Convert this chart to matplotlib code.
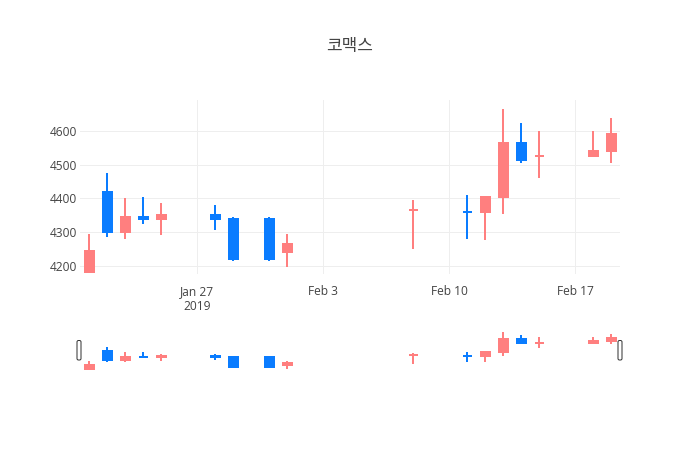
import pandas as pd
import matplotlib
matplotlib.use('Agg')
import matplotlib.pyplot as plt
import matplotlib.dates as mdates
from matplotlib.patches import FancyBboxPatch
from matplotlib.transforms import IdentityTransform

# Daily prices (KRW)
dates = ['2019-01-21', '2019-01-22', '2019-01-23', '2019-01-24', '2019-01-25',
         '2019-01-28', '2019-01-29', '2019-01-31', '2019-02-01', '2019-02-08',
         '2019-02-11', '2019-02-12', '2019-02-13', '2019-02-14', '2019-02-15',
         '2019-02-18', '2019-02-19']
opens = [4180, 4420, 4300, 4345, 4340, 4350, 4340, 4340, 4240, 4365,
         4360, 4360, 4405, 4565, 4525, 4525, 4540]
highs = [4295, 4475, 4400, 4405, 4385, 4380, 4345, 4345, 4295, 4395,
         4410, 4405, 4665, 4625, 4600, 4600, 4640]
lows = [4180, 4285, 4280, 4325, 4290, 4305, 4215, 4215, 4195, 4250,
        4280, 4275, 4355, 4505, 4460, 4525, 4505]
closes = [4245, 4300, 4345, 4340, 4350, 4340, 4220, 4220, 4265, 4365,
          4360, 4405, 4565, 4515, 4525, 4540, 4590]

tick_dates = ['2019-01-27', '2019-02-03', '2019-02-10', '2019-02-17']
tick_labels = ['Jan 27\n2019', 'Feb 3', 'Feb 10', 'Feb 17']
y_ticks = [4200, 4300, 4400, 4500, 4600]

title = '코맥스'

UP = '#ff7f7f'
DOWN = '#0a7cff'
GRID = '#eeeeee'
TEXT = '#444444'
PX = 72 / 100  # one pixel in points at dpi 100

x = mdates.date2num(pd.to_datetime(dates))
xt = mdates.date2num(pd.to_datetime(tick_dates))

# candle direction: like plotly, ties are decided by previous close
colors = []
for i in range(len(x)):
    if closes[i] > opens[i]:
        up = True
    elif closes[i] < opens[i]:
        up = False
    else:
        up = i > 0 and closes[i] >= closes[i - 1]
    colors.append(UP if up else DOWN)


def draw_candles(ax, wick_lw, body_lw):
    bottoms = [min(o, c) for o, c in zip(opens, closes)]
    heights = [abs(c - o) for o, c in zip(opens, closes)]
    ax.vlines(x, lows, highs, colors=colors, linewidth=wick_lw * PX, zorder=2)
    ax.bar(x, heights, bottom=bottoms, width=0.5, color=colors,
           edgecolor=colors, linewidth=body_lw * PX, zorder=3)


fig = plt.figure(figsize=(7, 4.5), dpi=100)

xmin, xmax = x[0] - 0.5, x[-1] + 0.5
ymin, ymax = 4177, 4692

# main candlestick panel
ax = fig.add_axes([80 / 700, (450 - 273.5) / 450, 540 / 700, 173.5 / 450])
draw_candles(ax, 2, 2)
ax.set_xlim(xmin, xmax)
ax.set_ylim(ymin, ymax)
ax.set_xticks(xt)
ax.set_xticklabels(tick_labels, linespacing=1.25)
ax.set_yticks(y_ticks)
ax.grid(True, color=GRID, linewidth=1 * PX, zorder=0)
ax.set_axisbelow(True)
for s in ax.spines.values():
    s.set_visible(False)
ax.tick_params(axis='both', length=0, labelsize=12 * PX, labelcolor=TEXT,
               labelfontfamily='Open Sans')
ax.tick_params(axis='x', pad=8)
ax.tick_params(axis='y', pad=2)

ax.set_title(title, fontsize=17 * PX, color=TEXT, family='Noto Sans CJK KR',
             pad=0, y=1 + 49 / 173.5)

# range slider below
sl = fig.add_axes([80 / 700, 80 / 450, 540 / 700, 40.5 / 450])
draw_candles(sl, 2, 2)
sl.set_xlim(xmin, xmax)
sl.set_ylim(ymin, ymax)
sl.set_xticks([])
sl.set_yticks([])
for s in sl.spines.values():
    s.set_visible(False)

# slider handles
for hx in [79, 620]:
    fig.patches.append(FancyBboxPatch((hx - 2, 450 - 360), 4, 19.5,
                                      boxstyle='round,pad=0,rounding_size=1.5',
                                      facecolor='white', edgecolor='#333333',
                                      linewidth=1 * PX, transform=IdentityTransform()))

fig.savefig('out.png', dpi=100)
